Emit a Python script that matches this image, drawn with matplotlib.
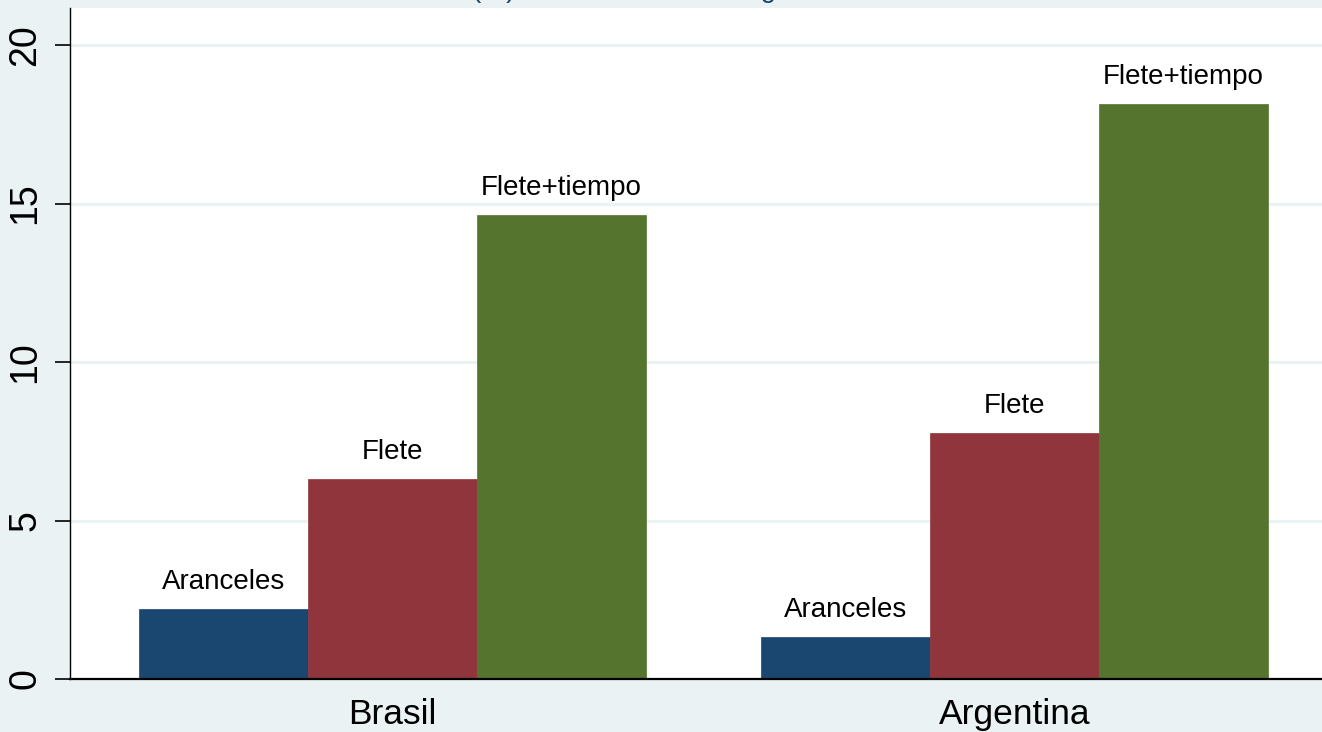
import numpy as np
import matplotlib
matplotlib.use('Agg')
import matplotlib.pyplot as plt

# --- Data ---
countries = ['Brasil', 'Argentina']
series = ['Aranceles', 'Flete', 'Flete+tiempo']
aranceles = [2.21, 1.32]
flete = [6.31, 7.76]
flete_tiempo = [14.64, 18.14]
yticks = [0, 5, 10, 15, 20]
title = '(%) de comercio con Argentina'

# Stata s2color look
bg = '#EAF2F3'
colors = ['#1a476f', '#90353b', '#55752f']

plt.rcParams['font.family'] = ['Liberation Sans', 'DejaVu Sans']

fig = plt.figure(figsize=(13.22, 7.32), dpi=100, facecolor=bg)
ax = fig.add_axes([70 / 1322, 1 - 679 / 732, 1 - 70 / 1322, (679 - 8) / 732])
ax.set_facecolor('white')

values = [aranceles, flete, flete_tiempo]
group_gap = 3.68
width = 1.0
centers = np.arange(len(countries)) * group_gap
for i, (name, vals, c) in enumerate(zip(series, values, colors)):
    xs = centers + (i - 1) * width
    ax.bar(xs, vals, width=width, color=c, edgecolor=c, linewidth=0.5, zorder=3)
    for x, v in zip(xs, vals):
        ax.annotate(name, (x, v), xytext=(0, 10), textcoords='offset points',
                    ha='center', va='bottom', fontsize=20, color='black', zorder=4)

ax.set_xlim(-1.908, 5.50)
ax.set_ylim(0, 21.17)

ax.set_yticks(yticks)
ax.set_yticklabels([str(t) for t in yticks], rotation=90, va='center', fontsize=27)
ax.tick_params(axis='y', length=11, width=1.2, pad=8, color='black')
ax.yaxis.grid(True, color=bg, linewidth=2.2, zorder=0)
ax.set_axisbelow(True)

ax.set_xticks(centers)
ax.set_xticklabels(countries, fontsize=25.5)
ax.tick_params(axis='x', length=0, pad=13.5)

for s in ['top', 'right']:
    ax.spines[s].set_visible(False)
ax.spines['left'].set_linewidth(1.0)
ax.spines['bottom'].set_linewidth(1.6)
ax.spines['bottom'].set_zorder(5)

# title sits mostly above the canvas, only its descenders show
fig.text(472 / 1322, 1 + 3 / 732, title, ha='left', va='baseline',
         fontsize=20, color='#1a476f')

fig.savefig('out.png', dpi=100, facecolor=bg)
